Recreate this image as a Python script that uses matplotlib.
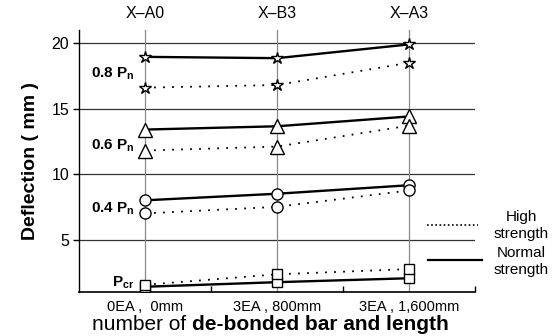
import matplotlib
matplotlib.use("Agg")
import matplotlib.pyplot as plt
from matplotlib.lines import Line2D

plt.rcParams['font.family'] = ['Liberation Sans', 'DejaVu Sans']
plt.rcParams['mathtext.fontset'] = 'custom'
plt.rcParams['mathtext.rm'] = 'Liberation Sans'
plt.rcParams['mathtext.bf'] = 'Liberation Sans:bold'

# specimens and de-bonding configuration
specimens = ["X\u2013A0", "X\u2013B3", "X\u2013A3"]
configs = ["0EA ,  0mm", "3EA , 800mm", "3EA , 1,600mm"]

# deflection (mm) at each load level
load_labels = [r"0.8 P$_\mathbf{n}$", r"0.6 P$_\mathbf{n}$", r"0.4 P$_\mathbf{n}$", r"P$_\mathbf{cr}$"]
label_y = [17.7, 12.2, 7.4, 1.7]
markers = ["*", "^", "o", "s"]
marker_sizes = [9, 10, 8, 7]

normal_strength = [
    [18.95, 18.85, 19.9],
    [13.4, 13.65, 14.4],
    [8.0, 8.5, 9.15],
    [1.4, 1.75, 2.05],
]
high_strength = [
    [16.6, 16.8, 18.5],
    [11.8, 12.1, 13.7],
    [7.0, 7.5, 8.75],
    [1.55, 2.35, 2.75],
]

W, H = 556, 336
fig = plt.figure(figsize=(W / 100, H / 100), dpi=100)
ax = fig.add_axes([79 / W, 44 / H, (475 - 79) / W, (292 - 30) / H])

x = list(range(len(specimens)))
ax.set_xlim(-0.5, 2.5)
ax.set_ylim(1.0, 21.0)

# grid
for yv in [5, 10, 15, 20]:
    ax.axhline(yv, color="#333333", lw=0.9, zorder=1)
for xv in x:
    ax.axvline(xv, color="#888888", lw=0.9, zorder=1)

for i in range(len(load_labels)):
    ax.plot(x, normal_strength[i], color="black", lw=1.7, marker=markers[i],
            ms=marker_sizes[i], mfc="white", mec="black", mew=1.0, zorder=3)
    ax.plot(x, high_strength[i], color="black", lw=1.3, ls=(0, (1, 4)),
            marker=markers[i], ms=marker_sizes[i], mfc="white", mec="black",
            mew=1.0, zorder=3)
    ax.text(-0.08, label_y[i], load_labels[i], ha="right", va="center",
            fontsize=11, fontweight="bold")

for s in ["top", "right"]:
    ax.spines[s].set_visible(False)
ax.spines["left"].set_linewidth(1.0)
ax.spines["bottom"].set_linewidth(1.2)

ax.set_yticks([5, 10, 15, 20])
ax.set_yticklabels(["5", "10", "15", "20"], fontsize=11.5)
ax.tick_params(axis="y", direction="out", length=4, width=1, pad=3)

ax.set_xticks([0.5, 1.5, 2.5], minor=True)
ax.set_xticks(x)
ax.set_xticklabels(configs, fontsize=10.5)
ax.tick_params(axis="x", which="major", length=0, pad=6)
ax.tick_params(axis="x", which="minor", direction="in", length=4, width=1)

# specimen names across the top
for xi, name in zip(x, specimens):
    ax.text(xi, 1.035, name, transform=ax.get_xaxis_transform(),
            ha="center", va="bottom", fontsize=11.5)

ax.set_ylabel("Deflection ( mm )", fontsize=14, fontweight="bold", labelpad=9)

# x-axis title with bold second part
t1 = fig.text(92 / W, 1 - 325 / H, "number of ", fontsize=15, va="center", ha="left")
fig.canvas.draw()
bb = t1.get_window_extent()
fig.text(bb.x1 / W, 1 - 325 / H, "de-bonded bar and length", fontsize=15,
         fontweight="bold", va="center", ha="left")

# legend
fig.add_artist(Line2D([427 / W, 478 / W], [1 - 225 / H, 1 - 225 / H],
                      color="black", lw=1.2, ls=(0, (1, 1.5))))
fig.add_artist(Line2D([428 / W, 482 / W], [1 - 260 / H, 1 - 260 / H],
                      color="black", lw=1.6))
for txt, yy in [("High", 217), ("strength", 234), ("Normal", 253), ("strength", 270)]:
    fig.text(521 / W, 1 - yy / H, txt, fontsize=11, ha="center", va="center")

fig.savefig("out.png", dpi=100)
